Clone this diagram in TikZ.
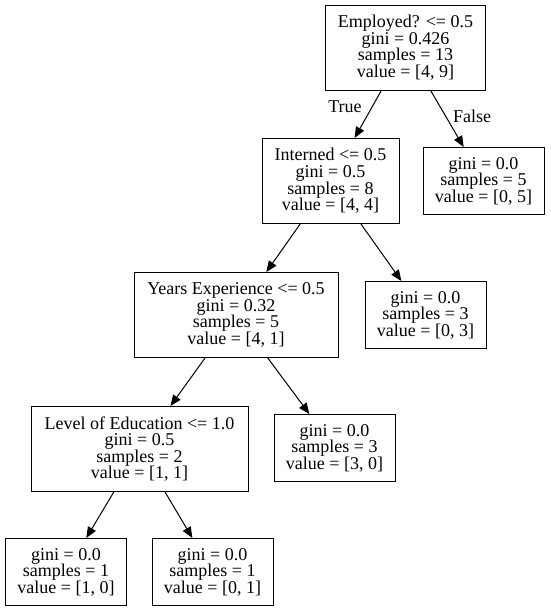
\documentclass[tikz,border=0pt]{standalone}
\usepackage{fontspec}
\setmainfont{Liberation Serif}
\usetikzlibrary{arrows.meta}

\begin{document}
\begin{tikzpicture}[x=1pt, y=-1pt,
  split/.style={draw, rectangle, align=center, line width=1pt, inner sep=0pt,
    minimum height=85pt, font=\fontsize{18}{16.6}\selectfont},
  leaf/.style={split, minimum width=121pt, minimum height=67pt},
  edge/.style={line width=1pt, -{Triangle[length=11pt, width=9pt]}}]

\useasboundingbox (0,0) rectangle (550,611);

\node[split, minimum width=160pt] (emp) at (405.5, 47.5) {Employed? <= 0.5\\gini = 0.426\\samples = 13\\value = [4, 9]};
\node[split, minimum width=137pt] (int) at (330.5, 181) {Interned <= 0.5\\gini = 0.5\\samples = 8\\value = [4, 4]};
\node[leaf] (f5) at (483.5, 181) {gini = 0.0\\samples = 5\\value = [0, 5]};
\node[split, minimum width=204pt] (yrs) at (236, 315) {Years Experience <= 0.5\\gini = 0.32\\samples = 5\\value = [4, 1]};
\node[leaf] (f3) at (425.5, 315) {gini = 0.0\\samples = 3\\value = [0, 3]};
\node[split, minimum width=217pt] (edu) at (139.5, 449) {Level of Education <= 1.0\\gini = 0.5\\samples = 2\\value = [1, 1]};
\node[leaf] (t3) at (334.5, 448) {gini = 0.0\\samples = 3\\value = [3, 0]};
\node[leaf] (t1) at (66, 572) {gini = 0.0\\samples = 1\\value = [1, 0]};
\node[leaf] (f1) at (212.5, 572) {gini = 0.0\\samples = 1\\value = [0, 1]};

\draw[edge] (emp) -- (int);
\draw[edge] (emp) -- (f5);
\draw[edge] (int) -- (yrs);
\draw[edge] (int) -- (f3);
\draw[edge] (yrs) -- (edu);
\draw[edge] (yrs) -- (t3);
\draw[edge] (edu) -- (t1);
\draw[edge] (edu) -- (f1);

\node[font=\fontsize{18}{16.6}\selectfont] (tl) at (345, 107) {True};
\node[font=\fontsize{18}{16.6}\selectfont] (fl) at (472, 116) {False};

\end{tikzpicture}
\end{document}
